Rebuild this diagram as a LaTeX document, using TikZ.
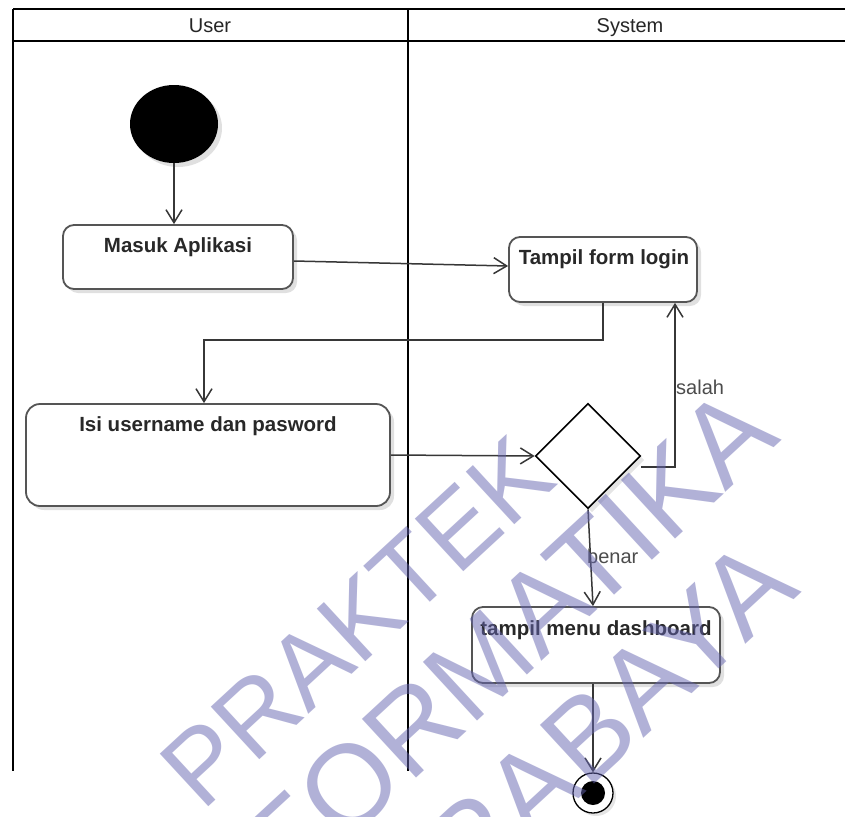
\documentclass[tikz,border=0pt]{standalone}
\usepackage{fontspec}
\setmainfont{Liberation Sans}
\usetikzlibrary{arrows.meta,shapes.geometric,shadows}
\definecolor{wm}{RGB}{101,101,177}
\definecolor{txt}{RGB}{40,40,40}
\definecolor{edgec}{RGB}{55,55,55}
\definecolor{boxc}{RGB}{85,85,85}
\begin{document}
\begin{tikzpicture}[x=1pt,y=-1pt,
  lane/.style={line width=2.6pt, draw=black},
  hdr/.style={font=\fontsize{20}{24}\selectfont, text=black!85, anchor=base, inner sep=0},
  box/.style={draw=boxc, line width=1.8pt, rounded corners=11pt, fill=white, inner sep=0,
    drop shadow={shadow xshift=4pt, shadow yshift=-4pt, opacity=0.12, fill=black}},
  actlabel/.style={font=\bfseries\fontsize{20.5}{24}\selectfont, text=txt, anchor=base, inner sep=0},
  guard/.style={font=\fontsize{20}{24}\selectfont, text=black!70, anchor=base west, inner sep=0},
  arr/.style={draw=edgec, line width=1.5pt, -{Straight Barb[length=13pt,width=16pt,line width=1.5pt]}},
  wmark/.style={text=wm, text opacity=0.5, rotate=42.7, anchor=east, inner sep=0}
]
\useasboundingbox (0,0) rectangle (845,816);
\clip (0,0) rectangle (845,816);
\fill[white] (0,0) rectangle (845,816);

% swimlanes
\draw[lane] (13,9) -- (846,9);
\draw[lane] (13,41) -- (846,41);
\draw[lane] (13,9) -- (13,771);
\draw[lane] (408,9) -- (408,771);
\node[hdr] (hUser) at (210,33) {User};
\node[hdr] (hSys) at (630,33) {System};

% nodes
\node[ellipse, fill=black, minimum width=88pt, minimum height=78pt, inner sep=0,
  drop shadow={shadow xshift=4pt, shadow yshift=-4pt, opacity=0.12, fill=black}] (start) at (174,124) {};
\node[box, minimum width=230pt, minimum height=64pt] (masuk) at (178,257) {};
\node[actlabel] (lmasuk) at (178,252) {Masuk Aplikasi};
\node[box, minimum width=188pt, minimum height=65pt] (tampil) at (603,269.5) {};
\node[actlabel] (ltampil) at (604,264) {Tampil form login};
\node[box, rounded corners=14pt, minimum width=364pt, minimum height=102pt] (isi) at (208,455) {};
\node[actlabel] (lisi) at (208,431) {Isi username dan pasword};
\node[diamond, draw=black, line width=1.6pt, fill=white, minimum width=105pt, minimum height=105pt, inner sep=0,
  drop shadow={shadow xshift=4pt, shadow yshift=-4pt, opacity=0.1, fill=black}] (dec) at (588,456) {};
\node[box, minimum width=248pt, minimum height=76pt] (dash) at (596,645) {};
\node[actlabel] (ldash) at (596,635) {tampil menu dashboard};
\node[circle, draw=black, line width=1.3pt, fill=white, minimum size=40pt, inner sep=0,
  drop shadow={shadow xshift=3pt, shadow yshift=-3pt, opacity=0.1, fill=black}] (end) at (593,793) {};
\node[circle, fill=black, minimum size=24pt, inner sep=0] (endin) at (end) {};

% connectors
\draw[arr] (start.south) -- (start.south |- masuk.north);
\draw[arr] ([yshift=-4pt]masuk.east) -- ([yshift=3.5pt]tampil.west);
\coordinate (c1) at (603,340);
\draw[arr] (tampil.south) -- (c1) -| ([xshift=-4pt]isi.north);
\draw[arr] (isi.east) -- (dec.west);
\draw[arr] ([yshift=-11pt]dec.east) -| ([xshift=72pt]tampil.south);
\node[guard] (lsalah) at (676,394) {salah};
\draw[arr] (dec.south) -- ([xshift=-3pt]dash.north);
\node[guard] (lbenar) at (587,563) {benar};
\draw[arr] ([xshift=-3pt]dash.south) -- (end.north);

% watermark
\node[wmark, font=\fontsize{104}{110}\selectfont] (w1) at (535,457) {PRAKTEK};
\node[wmark, font=\fontsize{116}{120}\selectfont] (w2) at (755,411) {INFORMATIKA};
\node[wmark, font=\fontsize{116}{120}\selectfont] (w3) at (775,563) {SURABAYA};
\end{tikzpicture}
\end{document}
